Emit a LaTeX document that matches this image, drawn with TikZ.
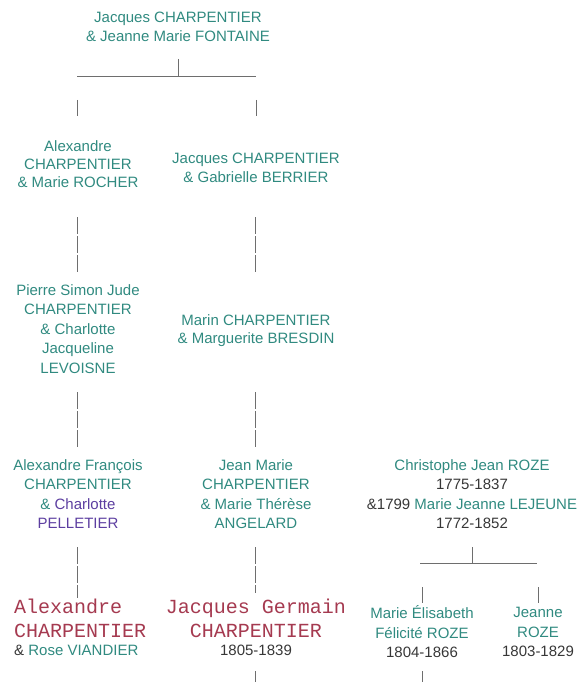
\documentclass[tikz,border=0pt]{standalone}
\usepackage{fontspec}
\setmainfont{Liberation Sans}
\setmonofont{Liberation Mono}
\usetikzlibrary{positioning}
\definecolor{nameteal}{RGB}{48,138,128}
\definecolor{datedark}{RGB}{55,55,55}
\definecolor{spousepurple}{RGB}{92,62,160}
\definecolor{heirred}{RGB}{165,58,80}
\definecolor{linegray}{RGB}{110,110,110}

\begin{document}
\begin{tikzpicture}[
    x=1pt, y=-1pt,
    every node/.style={inner sep=0pt, align=center, text=nameteal,
        font=\fontsize{15}{19.5}\selectfont},
    tight/.style={font=\fontsize{15}{18}\selectfont},
    heir/.style={text=heirred, font=\fontsize{20}{24}\ttfamily},
    link/.style={draw=linegray, line width=1pt},
    gen/.style={link, dash pattern=on 16.5pt off 2.5pt}
]
    \useasboundingbox (0,0) rectangle (580,682);

    \node (JC) at (178,27) {Jacques CHARPENTIER\\\& Jeanne Marie FONTAINE};

    \node[tight] (AC) at (78,164) {Alexandre\\CHARPENTIER\\\& Marie ROCHER};
    \node (JG) at (256,168) {Jacques CHARPENTIER\\\& Gabrielle BERRIER};

    \node (PS) at (78,329) {Pierre Simon Jude\\CHARPENTIER\\\& Charlotte\\Jacqueline\\LEVOISNE};
    \node[tight] (MC) at (256,330.5) {Marin CHARPENTIER\\\& Marguerite BRESDIN};

    \node (AF) at (78,494) {Alexandre François\\CHARPENTIER\\\& \textcolor{spousepurple}{Charlotte}\\\textcolor{spousepurple}{PELLETIER}};
    \node (JM) at (256,494) {Jean Marie\\CHARPENTIER\\\& Marie Thérèse\\ANGELARD};
    \node (CR) at (472,494) {Christophe Jean ROZE\\\textcolor{datedark}{1775-1837}\\\textcolor{datedark}{\&1799} Marie Jeanne LEJEUNE\\\textcolor{datedark}{1772-1852}};

    \node[heir, align=left, anchor=west] (AX) at (14,627.5) {Alexandre\\CHARPENTIER\\[-6.5pt]{\rmfamily\fontsize{15}{18}\selectfont\textcolor{datedark}{\&} \textcolor{nameteal}{Rose VIANDIER}}};
    \node[heir] (JGC) at (256,627.5) {Jacques Germain\\CHARPENTIER\\[-6.5pt]{\rmfamily\fontsize{15}{18}\selectfont\textcolor{datedark}{1805-1839}}};
    \node (ME) at (422,632) {Marie Élisabeth\\Félicité ROZE\\\textcolor{datedark}{1804-1866}};
    \node (JR) at (538,632) {Jeanne\\ROZE\\\textcolor{datedark}{1803-1829}};

    \coordinate (JCa) at (178,59);
    \coordinate (JCb) at (178,77);
    \coordinate (JCl) at (77,77);
    \coordinate (JCr) at (256,77);
    \coordinate (ACt) at (77,100);
    \coordinate (ACu) at (77,116);
    \coordinate (JGt) at (256,100);
    \coordinate (JGu) at (256,116);
    \draw[link] (JCa) -- (JCb);
    \draw[link] (JCl) -- (JCr);
    \draw[link] (ACt) -- (ACu);
    \draw[link] (JGt) -- (JGu);

    \draw[gen] (77,217) -- (77,272);
    \draw[gen] (255,217) -- (255,272);
    \draw[gen] (77,392) -- (77,448);
    \draw[gen] (255,392) -- (255,448);
    \draw[gen] (77,547) -- (77,598);
    \draw[gen] (255,547) -- (255,593);

    \coordinate (CRa) at (472,547);
    \coordinate (CRb) at (472,563);
    \coordinate (CRl) at (420,563);
    \coordinate (CRr) at (537,563);
    \coordinate (MEt) at (422,587);
    \coordinate (MEu) at (422,603);
    \coordinate (JRt) at (538,587);
    \coordinate (JRu) at (538,603);
    \draw[link] (CRa) -- (CRb);
    \draw[link] (CRl) -- (CRr);
    \draw[link] (MEt) -- (MEu);
    \draw[link] (JRt) -- (JRu);

    \draw[link] (255,671) -- (255,682);
    \draw[link] (422,671) -- (422,682);
\end{tikzpicture}
\end{document}
